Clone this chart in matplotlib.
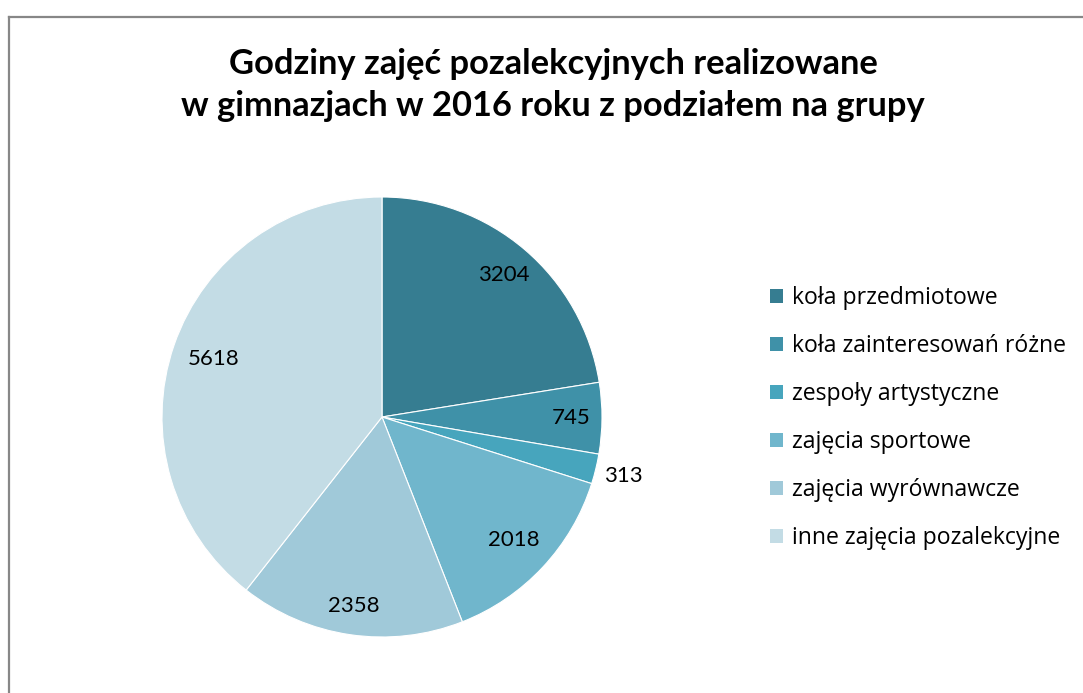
import numpy as np
import matplotlib
matplotlib.use("Agg")
import matplotlib.pyplot as plt
from matplotlib.lines import Line2D

plt.rcParams['font.family'] = ['Lato', 'DejaVu Sans']

# ============================================================
# dane
# ============================================================
title = "Godziny zajęć pozalekcyjnych realizowane\nw gimnazjach w 2016 roku z podziałem na grupy"
categories = ["koła przedmiotowe", "koła zainteresowań różne", "zespoły artystyczne",
              "zajęcia sportowe", "zajęcia wyrównawcze", "inne zajęcia pozalekcyjne"]
values = [3204, 745, 313, 2018, 2358, 5618]
colors = ["#367d91", "#3f91a8", "#47a5bd", "#70b6cc", "#a0c9d9", "#c3dce5"]
# odleglosc etykiety od srodka (ulamek promienia)
label_r = [0.85, 0.86, 1.13, 0.82, 0.87, 0.81]

W, H = 1083, 693
fig = plt.figure(figsize=(W / 100, H / 100), dpi=100)

# ramka (lewa i gorna krawedz)
fig.add_artist(Line2D([9 / W, 9 / W], [0, 1 - 17 / H], transform=fig.transFigure,
                      color="#878787", linewidth=1.6))
fig.add_artist(Line2D([9 / W, 1], [1 - 17 / H, 1 - 17 / H], transform=fig.transFigure,
                      color="#878787", linewidth=1.6))

fig.text(553 / W, 1 - 85 / H, title, ha="center", va="center", fontsize=24.8,
         fontweight="bold", linespacing=1.42, color="#000000")

# ============================================================
# wykres kolowy
# ============================================================
cx, cy, r = 382, 417, 220
ax = fig.add_axes([(cx - r) / W, (H - cy - r) / H, 2 * r / W, 2 * r / H])
wedges, _ = ax.pie(values, colors=colors, startangle=90, counterclock=False,
                   radius=1.0, wedgeprops=dict(edgecolor="white", linewidth=0.8))
ax.set_xlim(-1, 1)
ax.set_ylim(-1, 1)
ax.set_aspect("equal")
ax.axis("off")

for w, v, lr in zip(wedges, values, label_r):
    ang = np.deg2rad((w.theta1 + w.theta2) / 2)
    ax.text(lr * np.cos(ang), lr * np.sin(ang), str(v), ha="center", va="center",
            fontsize=16, color="#000000", clip_on=False)

# legenda
leg_handles = [plt.Rectangle((0, 0), 1, 1, facecolor=c, edgecolor="none") for c in colors]
fig.legend(leg_handles, categories, loc="center left",
           bbox_to_anchor=(770 / W, 1 - 418 / H), frameon=False,
           prop={"family": ["Open Sans", "DejaVu Sans"], "size": 16.6},
           borderpad=0, borderaxespad=0,
           handlelength=0.56, handleheight=0.56, handletextpad=0.39, labelspacing=1.04)

fig.savefig("out.png", dpi=100)
